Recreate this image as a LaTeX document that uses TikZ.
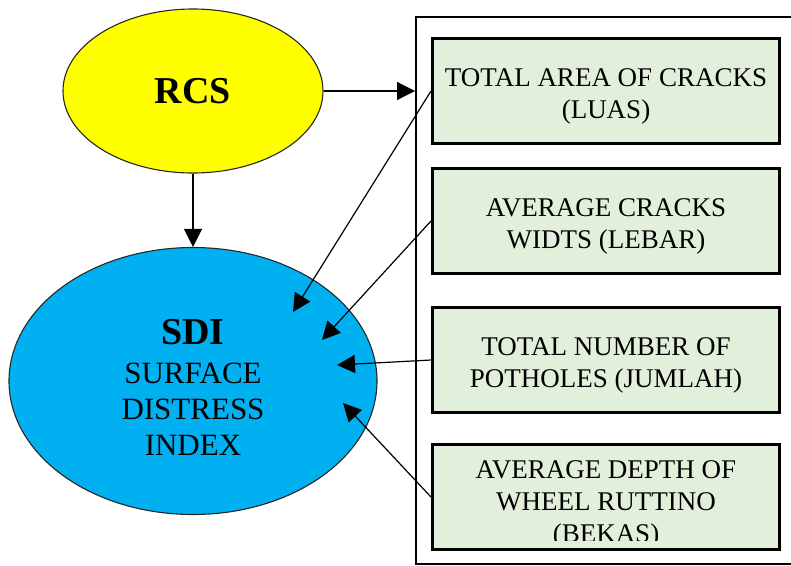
\documentclass[tikz,border=0pt]{standalone}
\usepackage{fontspec}
\setmainfont{Liberation Serif}
\usetikzlibrary{shapes.geometric,arrows.meta}

\definecolor{rcsyellow}{RGB}{255,255,0}
\definecolor{sdiblue}{RGB}{0,176,240}
\definecolor{factorgreen}{RGB}{226,239,218}

\tikzset{
  index/.style={ellipse, draw=black!85, line width=1.1pt, inner sep=0pt},
  factor/.style={rectangle, draw=black, fill=factorgreen, line width=3pt,
    minimum width=347pt, minimum height=105pt, inner sep=0pt},
  factortext/.style={align=center, yshift=-5pt, font=\fontsize{27}{32}\selectfont},
  link/.style={line width=1.2pt, -{Triangle[length=18pt,width=18pt]}},
}

\begin{document}
\begin{tikzpicture}[x=1pt, y=-1pt]
\clip (0,0) rectangle (791,565);
\fill[white] (0,0) rectangle (791,565);

% Panel holding the four factors
\node[draw, line width=1.8pt, minimum width=420pt, minimum height=547pt,
  anchor=north west, inner sep=0pt] (panel) at (415,16) {};

% Indices
\node[index, fill=rcsyellow, minimum width=260pt, minimum height=164pt,
  font=\bfseries\fontsize{38}{40}\selectfont] (rcs) at (193,91) {RCS};
\node[index, fill=sdiblue, minimum width=368pt, minimum height=267pt] (sdi) at (193,381) {};
\node[align=center, font=\fontsize{31}{36}\selectfont] (sditext) at ([yshift=-6pt]sdi.center)
  {{\bfseries\fontsize{38}{40}\selectfont SDI}\\[3pt]SURFACE\\DISTRESS\\INDEX};

% Factors
\node[factor] (luas) at (606,91) {};
\node[factortext] (luastext) at (luas) {TOTAL AREA OF CRACKS\\(LUAS)};
\node[factor] (lebar) at (606,221) {};
\node[factortext] (lebartext) at (lebar) {AVERAGE CRACKS\\WIDTS (LEBAR)};
\node[factor] (jumlah) at (606,360) {};
\node[factortext] (jumlahtext) at (jumlah) {TOTAL NUMBER OF\\POTHOLES (JUMLAH)};
\node[factor] (bekas) at (606,497) {};
\begin{scope}
  % last line runs past the box and gets cut off
  \clip (433,445) rectangle (779,540);
  \node[factortext] (bekastext) at ([yshift=-2pt]bekas.center)
    {AVERAGE DEPTH OF\\WHEEL RUTTINO\\(BEKAS)};
\end{scope}

% Arrow tips inside SDI
\coordinate (tipluas) at (293,312);
\coordinate (tiplebar) at (322,340);
\coordinate (tipjumlah) at (337,365);
\coordinate (tipbekas) at (343,403);

% Connectors
\draw[link] (rcs.east) -- (rcs.east -| panel.west);
\draw[link] (rcs.south) -- (sdi.north);
\draw[link] (luas.west) -- (tipluas);
\draw[link] (lebar.west) -- (tiplebar);
\draw[link] (jumlah.west) -- (tipjumlah);
\draw[link] (bekas.west) -- (tipbekas);
\end{tikzpicture}
\end{document}
